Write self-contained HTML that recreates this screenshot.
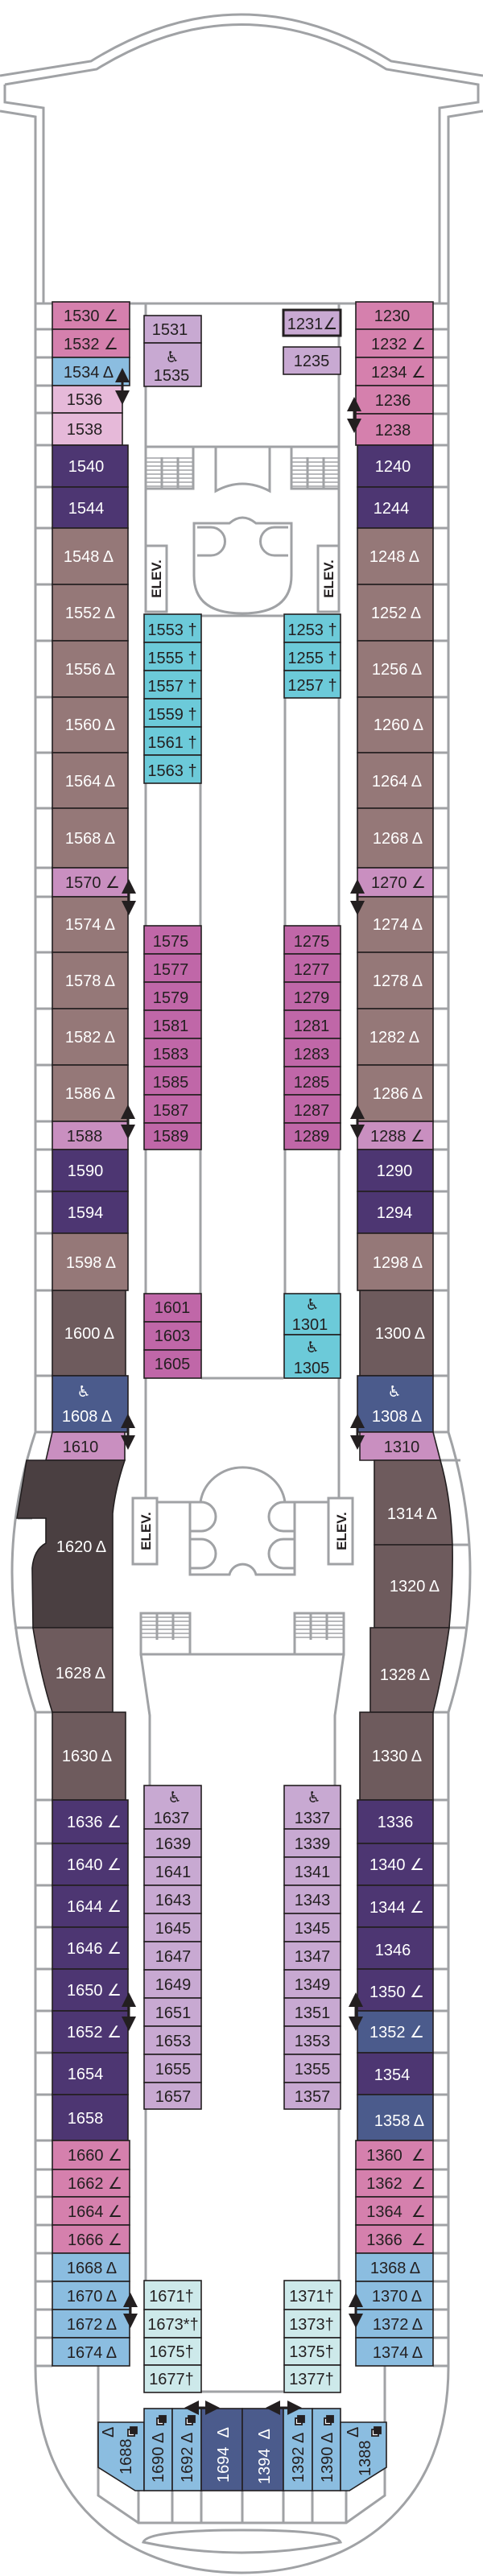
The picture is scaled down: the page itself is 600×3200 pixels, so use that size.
<!DOCTYPE html>
<html><head><meta charset="utf-8"><style>
html,body{margin:0;padding:0;background:#fff;width:600px;height:3200px;overflow:hidden}
svg{display:block}
text{font-family:"Liberation Sans","DejaVu Sans",sans-serif;font-size:20px;text-anchor:middle;fill:#231f20}
.w{fill:#fff}
.wc{font-family:"DejaVu Sans",sans-serif;font-size:19px}
.el{font-weight:bold;font-size:17px}
.g{fill:none;stroke:#a0a2a5;stroke-width:3}
.r{stroke:#231f20;stroke-width:1.6}
.a{stroke:#231f20;stroke-width:3;fill:none}
.rt{text-anchor:start}
</style></head><body>
<svg width="600" height="3200" viewBox="0 0 600 3200" xmlns="http://www.w3.org/2000/svg">
<defs>
<pattern id="st" width="10" height="5" patternUnits="userSpaceOnUse"><rect width="10" height="5" fill="#fff"/><line x1="0" y1="4" x2="10" y2="4" stroke="#a0a2a5" stroke-width="1.5"/></pattern>
<marker id="ah" markerWidth="6" markerHeight="6" refX="3" refY="3" orient="auto-start-reverse"><path d="M0,0 L6,3 L0,6 Z" fill="#231f20"/></marker>
</defs>

<!-- bow outline -->
<path class="g" d="M0 94 L113 76 Q300 -40 486 76 L600 94"/>
<path class="g" d="M6 105 L120 86 Q300 -25 480 86 L594 105 L594 127 L546 134 L546 377"/>
<path class="g" d="M6 105 L6 127 L54 134 L54 377"/>
<path class="g" d="M0 138 L44 145 L44 1779"/>
<path class="g" d="M600 138 L557 145 L557 1779"/>
<path class="g" d="M44 1779 Q-14 1953 44 2127 L44 2940"/>
<path class="g" d="M557 1779 Q611 1953 557 2127 L557 2940"/>
<path class="g" d="M44 2940 C44 3120 170 3196 300 3196 C430 3196 557 3120 557 2940"/>

<!-- balcony separators left -->
<path class="g" d="M44 377H65M44 409H65M44 444H65M44 479H65M44 513H65M44 553H65M44 605H65M44 656H65M44 726H65M44 796H65M44 866H65M44 935H65M44 1004H65M44 1078H65M44 1114H65M44 1183H65M44 1253H65M44 1323H65M44 1393H65M44 1428H65M44 1480H65M44 1532H65M44 1603H65M44 1709H65M44 1779H65M22 1886H40M18 2022H41M44 2127H65M44 2236H65M44 2290H65M44 2342H65M44 2394H65M44 2446H65M44 2498H65M44 2550H65M44 2602H65M44 2659H65M44 2695H65M44 2729H65M44 2764H65M44 2799H65M44 2834H65M44 2869H65M44 2904H65M44 2939H65"/>
<!-- balcony separators right -->
<path class="g" d="M538 377H557M538 409H557M538 444H557M538 479H557M538 514H557M538 553H557M538 605H557M538 656H557M538 726H557M538 796H557M538 866H557M538 935H557M538 1004H557M538 1078H557M538 1114H557M538 1183H557M538 1253H557M538 1323H557M538 1393H557M538 1428H557M538 1480H557M538 1532H557M538 1603H557M538 1709H557M538 1779H557M547 1814H572M562 1919H583M558 2022H578M538 2127H557M538 2236H557M538 2290H557M538 2342H557M538 2394H557M538 2446H557M538 2498H557M538 2550H557M538 2602H557M538 2659H557M538 2695H557M538 2729H557M538 2764H557M538 2799H557M538 2834H557M538 2869H557M538 2904H557M538 2939H557"/>

<!-- center structures -->
<path class="g" d="M161 377H442"/>
<path class="g" d="M181 377V678M421 377V678"/>
<path class="g" d="M181 555H421"/>
<rect x="181" y="568" width="59" height="39" fill="url(#st)"/>
<rect x="181" y="555" width="59" height="52" class="g"/>
<path class="g" d="M201 568V607M221 568V607"/>
<rect x="362" y="568" width="59" height="39" fill="url(#st)"/>
<rect x="362" y="555" width="59" height="52" class="g"/>
<path class="g" d="M382 568V607M402 568V607"/>
<path class="g" d="M268 555V610Q301 592 335 610V555"/>
<path class="g" d="M241 650H285Q301 636 318 650H362V715Q362 762 301 762Q241 762 241 715Z"/>
<path class="g" d="M245 655H262A16 16 0 0 1 262 690H245M358 655H341A16 16 0 0 0 341 690H358"/>
<path class="g" d="M250 765H352"/>
<rect x="181" y="678" width="26" height="82" fill="#fff" class="g"/>
<rect x="395" y="678" width="26" height="82" fill="#fff" class="g"/>
<text class="el" transform="translate(200,719) rotate(-90)">ELEV.</text>
<text class="el" transform="translate(414,719) rotate(-90)">ELEV.</text>
<path class="g" d="M181 973V1150M249 973V1150M354 867V1150M421 867V1150"/>
<path class="g" d="M181 1428V1607M249 1428V1607M354 1428V1607M421 1428V1607"/>
<path class="g" d="M181 1712V1861M421 1712V1861M250 1712H352"/>
<rect x="165" y="1861" width="30" height="82" fill="#fff" class="g"/>
<rect x="408" y="1861" width="30" height="82" fill="#fff" class="g"/>
<text class="el" transform="translate(187,1902) rotate(-90)">ELEV.</text>
<text class="el" transform="translate(430,1902) rotate(-90)">ELEV.</text>
<path class="g" d="M195 1866H236M366 1866H408"/>
<path class="g" d="M236 1866H249A53 50 0 0 1 354 1866H366V1956H318A17 17 0 0 0 285 1956H236Z"/>
<path class="g" d="M236 1866H250A16 16 0 0 1 250 1902H236M236 1912H250A16 16 0 0 1 250 1948H236M366 1866H352A16 16 0 0 0 352 1902H366M366 1912H352A16 16 0 0 0 352 1948H366"/>
<rect x="175" y="2004" width="61" height="33" fill="url(#st)"/>
<rect x="175" y="2004" width="61" height="51" class="g"/>
<path class="g" d="M195 2004V2037M215 2004V2037"/>
<rect x="366" y="2004" width="61" height="33" fill="url(#st)"/>
<rect x="366" y="2004" width="61" height="51" class="g"/>
<path class="g" d="M386 2004V2037M406 2004V2037"/>
<path class="g" d="M236 2055H366M175 2055L186 2131V2218M427 2055L416 2131V2218"/>
<path class="g" d="M181 2620V2833M421 2620V2833M250 2971H352"/>
<path class="g" d="M122 2939V3100L172 3134H430L478 3100V2939"/>
<path class="g" d="M172 3094V3134M214 3094V3134M250 3094V3134M301 3094V3134M352 3094V3134M388 3094V3134M430 3094V3134"/>
<path class="g" d="M178 3158Q183 3143 300 3143Q417 3143 423 3158Q300 3184 178 3158Z"/>

<!-- LEFT COLUMN -->
<g class="r">
<rect x="65" y="375" width="96" height="34" fill="#d580ad"/>
<rect x="65" y="409" width="96" height="35" fill="#d580ad"/>
<rect x="65" y="444" width="96" height="35" fill="#8bbde0"/>
<rect x="65" y="479" width="87" height="34" fill="#e6b9d9"/>
<rect x="65" y="513" width="87" height="40" fill="#e6b9d9"/>
<rect x="65" y="553" width="94" height="52" fill="#4d3672"/>
<rect x="65" y="605" width="94" height="51" fill="#4d3672"/>
<rect x="65" y="656" width="94" height="70" fill="#957878"/>
<rect x="65" y="726" width="94" height="70" fill="#957878"/>
<rect x="65" y="796" width="94" height="70" fill="#957878"/>
<rect x="65" y="866" width="94" height="69" fill="#957878"/>
<rect x="65" y="935" width="94" height="69" fill="#957878"/>
<rect x="65" y="1004" width="94" height="74" fill="#957878"/>
<rect x="65" y="1078" width="94" height="36" fill="#c98fc0"/>
<rect x="65" y="1114" width="94" height="69" fill="#957878"/>
<rect x="65" y="1183" width="94" height="70" fill="#957878"/>
<rect x="65" y="1253" width="94" height="70" fill="#957878"/>
<rect x="65" y="1323" width="94" height="70" fill="#957878"/>
<rect x="65" y="1393" width="94" height="35" fill="#c98fc0"/>
<rect x="65" y="1428" width="94" height="52" fill="#4d3672"/>
<rect x="65" y="1480" width="94" height="52" fill="#4d3672"/>
<rect x="65" y="1532" width="94" height="71" fill="#957878"/>
<rect x="65" y="1603" width="91" height="106" fill="#6e5b5d"/>
<rect x="65" y="1709" width="94" height="70" fill="#4b5b8c"/>
<path d="M65 1779H155V1814H57Z" fill="#c98fc0"/>
<path d="M33 1814H155Q143 1850 140 1880V2022H41L40 1948Q42 1925 57 1917V1886H21Z" fill="#4a3f41"/>
<path d="M41 2022H140V2127H65Q50 2080 41 2022Z" fill="#6e5b5d"/>
<rect x="65" y="2127" width="91" height="109" fill="#6e5b5d"/>
<rect x="65" y="2236" width="94" height="54" fill="#4d3672"/>
<rect x="65" y="2290" width="94" height="52" fill="#4d3672"/>
<rect x="65" y="2342" width="94" height="52" fill="#4d3672"/>
<rect x="65" y="2394" width="94" height="52" fill="#4d3672"/>
<rect x="65" y="2446" width="94" height="52" fill="#4d3672"/>
<rect x="65" y="2498" width="94" height="52" fill="#4d3672"/>
<rect x="65" y="2550" width="94" height="52" fill="#4d3672"/>
<rect x="65" y="2602" width="94" height="57" fill="#4d3672"/>
<rect x="65" y="2659" width="96" height="36" fill="#d580ad"/>
<rect x="65" y="2695" width="96" height="34" fill="#d580ad"/>
<rect x="65" y="2729" width="96" height="35" fill="#d580ad"/>
<rect x="65" y="2764" width="96" height="35" fill="#d580ad"/>
<rect x="65" y="2799" width="96" height="35" fill="#8bbde0"/>
<rect x="65" y="2834" width="96" height="35" fill="#8bbde0"/>
<rect x="65" y="2869" width="96" height="35" fill="#8bbde0"/>
<rect x="65" y="2904" width="96" height="35" fill="#8bbde0"/>
</g>
<g>
<text x="113" y="399">1530 ∠</text>
<text x="113" y="434">1532 ∠</text>
<text x="110" y="469">1534 Δ</text>
<text x="105" y="503">1536</text>
<text x="105" y="540">1538</text>
<text class="w" x="107" y="586">1540</text>
<text class="w" x="107" y="638">1544</text>
<text class="w" x="110" y="698">1548 Δ</text>
<text class="w" x="112" y="768">1552 Δ</text>
<text class="w" x="112" y="838">1556 Δ</text>
<text class="w" x="112" y="907">1560 Δ</text>
<text class="w" x="112" y="977">1564 Δ</text>
<text class="w" x="112" y="1048">1568 Δ</text>
<text x="115" y="1103">1570 ∠</text>
<text class="w" x="112" y="1155">1574 Δ</text>
<text class="w" x="112" y="1225">1578 Δ</text>
<text class="w" x="112" y="1295">1582 Δ</text>
<text class="w" x="112" y="1365">1586 Δ</text>
<text x="105" y="1418">1588</text>
<text class="w" x="106" y="1461">1590</text>
<text class="w" x="106" y="1513">1594</text>
<text class="w" x="113" y="1575">1598 Δ</text>
<text class="w" x="111" y="1663">1600 Δ</text>
<text class="w wc" x="104" y="1735">♿</text>
<text class="w" x="108" y="1766">1608 Δ</text>
<text x="100" y="1804">1610</text>
<text class="w" x="101" y="1928">1620 Δ</text>
<text class="w" x="100" y="2085">1628 Δ</text>
<text class="w" x="108" y="2188">1630 Δ</text>
<text class="w" x="117" y="2270">1636 ∠</text>
<text class="w" x="117" y="2323">1640 ∠</text>
<text class="w" x="117" y="2375">1644 ∠</text>
<text class="w" x="117" y="2427">1646 ∠</text>
<text class="w" x="117" y="2479">1650 ∠</text>
<text class="w" x="117" y="2531">1652 ∠</text>
<text class="w" x="106" y="2583">1654</text>
<text class="w" x="106" y="2638">1658</text>
<text x="118" y="2684">1660 ∠</text>
<text x="118" y="2719">1662 ∠</text>
<text x="118" y="2754">1664 ∠</text>
<text x="118" y="2789">1666 ∠</text>
<text x="114" y="2824">1668 Δ</text>
<text x="114" y="2859">1670 Δ</text>
<text x="114" y="2894">1672 Δ</text>
<text x="114" y="2929">1674 Δ</text>
</g>

<!-- RIGHT COLUMN -->
<g class="r">
<rect x="442" y="375" width="96" height="34" fill="#d580ad"/>
<rect x="442" y="409" width="96" height="35" fill="#d580ad"/>
<rect x="442" y="444" width="96" height="35" fill="#d580ad"/>
<rect x="442" y="479" width="96" height="35" fill="#d580ad"/>
<rect x="442" y="514" width="96" height="39" fill="#d580ad"/>
<rect x="444" y="553" width="94" height="52" fill="#4d3672"/>
<rect x="444" y="605" width="94" height="51" fill="#4d3672"/>
<rect x="444" y="656" width="94" height="70" fill="#957878"/>
<rect x="444" y="726" width="94" height="70" fill="#957878"/>
<rect x="444" y="796" width="94" height="70" fill="#957878"/>
<rect x="444" y="866" width="94" height="69" fill="#957878"/>
<rect x="444" y="935" width="94" height="69" fill="#957878"/>
<rect x="444" y="1004" width="94" height="74" fill="#957878"/>
<rect x="444" y="1078" width="94" height="36" fill="#c98fc0"/>
<rect x="444" y="1114" width="94" height="69" fill="#957878"/>
<rect x="444" y="1183" width="94" height="70" fill="#957878"/>
<rect x="444" y="1253" width="94" height="70" fill="#957878"/>
<rect x="444" y="1323" width="94" height="70" fill="#957878"/>
<rect x="444" y="1393" width="94" height="35" fill="#c98fc0"/>
<rect x="444" y="1428" width="94" height="52" fill="#4d3672"/>
<rect x="444" y="1480" width="94" height="52" fill="#4d3672"/>
<rect x="444" y="1532" width="94" height="71" fill="#957878"/>
<rect x="447" y="1603" width="91" height="106" fill="#6e5b5d"/>
<rect x="444" y="1709" width="94" height="70" fill="#4b5b8c"/>
<path d="M447 1779H538L547 1814H447Z" fill="#c98fc0"/>
<path d="M465 1814H547Q560 1860 562 1919H465Z" fill="#6e5b5d"/>
<path d="M465 1919H562Q563 1970 558 2022H465Z" fill="#6e5b5d"/>
<path d="M460 2022H558Q550 2080 538 2127H460Z" fill="#6e5b5d"/>
<rect x="447" y="2127" width="91" height="109" fill="#6e5b5d"/>
<rect x="444" y="2236" width="94" height="54" fill="#4d3672"/>
<rect x="444" y="2290" width="94" height="52" fill="#4d3672"/>
<rect x="444" y="2342" width="94" height="52" fill="#4d3672"/>
<rect x="444" y="2394" width="94" height="52" fill="#4d3672"/>
<rect x="444" y="2446" width="94" height="52" fill="#4d3672"/>
<rect x="444" y="2498" width="94" height="52" fill="#4b5b8c"/>
<rect x="444" y="2550" width="94" height="52" fill="#4d3672"/>
<rect x="444" y="2602" width="94" height="57" fill="#4b5b8c"/>
<rect x="442" y="2659" width="96" height="36" fill="#d580ad"/>
<rect x="442" y="2695" width="96" height="34" fill="#d580ad"/>
<rect x="442" y="2729" width="96" height="35" fill="#d580ad"/>
<rect x="442" y="2764" width="96" height="35" fill="#d580ad"/>
<rect x="442" y="2799" width="96" height="35" fill="#8bbde0"/>
<rect x="442" y="2834" width="96" height="35" fill="#8bbde0"/>
<rect x="442" y="2869" width="96" height="35" fill="#8bbde0"/>
<rect x="442" y="2904" width="96" height="35" fill="#8bbde0"/>
</g>
<g>
<text x="487" y="399">1230</text>
<text x="495" y="434">1232 ∠</text>
<text x="495" y="469">1234 ∠</text>
<text x="488" y="504">1236</text>
<text x="488" y="541">1238</text>
<text class="w" x="488" y="586">1240</text>
<text class="w" x="486" y="638">1244</text>
<text class="w" x="490" y="698">1248 Δ</text>
<text class="w" x="492" y="768">1252 Δ</text>
<text class="w" x="493" y="838">1256 Δ</text>
<text class="w" x="495" y="907">1260 Δ</text>
<text class="w" x="493" y="977">1264 Δ</text>
<text class="w" x="494" y="1048">1268 Δ</text>
<text x="495" y="1103">1270 ∠</text>
<text class="w" x="494" y="1155">1274 Δ</text>
<text class="w" x="494" y="1225">1278 Δ</text>
<text class="w" x="490" y="1295">1282 Δ</text>
<text class="w" x="494" y="1365">1286 Δ</text>
<text x="494" y="1418">1288 ∠</text>
<text class="w" x="490" y="1461">1290</text>
<text class="w" x="490" y="1513">1294</text>
<text class="w" x="494" y="1575">1298 Δ</text>
<text class="w" x="497" y="1663">1300 Δ</text>
<text class="w wc" x="490" y="1735">♿</text>
<text class="w" x="493" y="1766">1308 Δ</text>
<text x="499" y="1804">1310</text>
<text class="w" x="512" y="1887">1314 Δ</text>
<text class="w" x="515" y="1977">1320 Δ</text>
<text class="w" x="503" y="2087">1328 Δ</text>
<text class="w" x="493" y="2188">1330 Δ</text>
<text class="w" x="491" y="2270">1336</text>
<text class="w" x="493" y="2323">1340 ∠</text>
<text class="w" x="493" y="2376">1344 ∠</text>
<text class="w" x="488" y="2429">1346</text>
<text class="w" x="493" y="2481">1350 ∠</text>
<text class="w" x="493" y="2531">1352 ∠</text>
<text class="w" x="487" y="2584">1354</text>
<text class="w" x="496" y="2641">1358 Δ</text>
<text x="492" y="2684">1360 &#160;∠</text>
<text x="492" y="2719">1362 &#160;∠</text>
<text x="492" y="2754">1364 &#160;∠</text>
<text x="492" y="2789">1366 &#160;∠</text>
<text x="491" y="2824">1368 Δ</text>
<text x="493" y="2859">1370 Δ</text>
<text x="494" y="2894">1372 Δ</text>
<text x="494" y="2929">1374 Δ</text>
</g>

<!-- INNER COLUMNS -->
<g class="r">
<rect x="179" y="392" width="71" height="34" fill="#c8a9d2"/>
<rect x="179" y="426" width="71" height="54" fill="#c8a9d2"/>
<rect x="352" y="385" width="71" height="32" fill="#c8a9d2" stroke-width="3"/>
<rect x="352" y="431" width="71" height="34" fill="#c8a9d2"/>
<rect x="179" y="763" width="71" height="35" fill="#6ccad9"/>
<rect x="179" y="798" width="71" height="35" fill="#6ccad9"/>
<rect x="179" y="833" width="71" height="35" fill="#6ccad9"/>
<rect x="179" y="868" width="71" height="35" fill="#6ccad9"/>
<rect x="179" y="903" width="71" height="35" fill="#6ccad9"/>
<rect x="179" y="938" width="71" height="35" fill="#6ccad9"/>
<rect x="353" y="763" width="70" height="35" fill="#6ccad9"/>
<rect x="353" y="798" width="70" height="35" fill="#6ccad9"/>
<rect x="353" y="833" width="70" height="34" fill="#6ccad9"/>
<rect x="179" y="1150" width="71" height="35" fill="#c067a8"/>
<rect x="179" y="1185" width="71" height="35" fill="#c067a8"/>
<rect x="179" y="1220" width="71" height="35" fill="#c067a8"/>
<rect x="179" y="1255" width="71" height="35" fill="#c067a8"/>
<rect x="179" y="1290" width="71" height="35" fill="#c067a8"/>
<rect x="179" y="1325" width="71" height="35" fill="#c067a8"/>
<rect x="179" y="1360" width="71" height="35" fill="#c067a8"/>
<rect x="179" y="1395" width="71" height="33" fill="#c067a8"/>
<rect x="353" y="1150" width="70" height="35" fill="#c067a8"/>
<rect x="353" y="1185" width="70" height="35" fill="#c067a8"/>
<rect x="353" y="1220" width="70" height="35" fill="#c067a8"/>
<rect x="353" y="1255" width="70" height="35" fill="#c067a8"/>
<rect x="353" y="1290" width="70" height="35" fill="#c067a8"/>
<rect x="353" y="1325" width="70" height="35" fill="#c067a8"/>
<rect x="353" y="1360" width="70" height="35" fill="#c067a8"/>
<rect x="353" y="1395" width="70" height="33" fill="#c067a8"/>
<rect x="179" y="1607" width="71" height="35" fill="#c067a8"/>
<rect x="179" y="1642" width="71" height="35" fill="#c067a8"/>
<rect x="179" y="1677" width="71" height="35" fill="#c067a8"/>
<rect x="353" y="1607" width="70" height="51" fill="#6ccad9"/>
<rect x="353" y="1658" width="70" height="54" fill="#6ccad9"/>
<rect x="179" y="2218" width="71" height="54" fill="#c8a9d2"/>
<rect x="179" y="2272" width="71" height="35" fill="#c8a9d2"/>
<rect x="179" y="2307" width="71" height="35" fill="#c8a9d2"/>
<rect x="179" y="2342" width="71" height="35" fill="#c8a9d2"/>
<rect x="179" y="2377" width="71" height="35" fill="#c8a9d2"/>
<rect x="179" y="2412" width="71" height="35" fill="#c8a9d2"/>
<rect x="179" y="2447" width="71" height="35" fill="#c8a9d2"/>
<rect x="179" y="2482" width="71" height="35" fill="#c8a9d2"/>
<rect x="179" y="2517" width="71" height="35" fill="#c8a9d2"/>
<rect x="179" y="2552" width="71" height="35" fill="#c8a9d2"/>
<rect x="179" y="2587" width="71" height="33" fill="#c8a9d2"/>
<rect x="353" y="2218" width="70" height="54" fill="#c8a9d2"/>
<rect x="353" y="2272" width="70" height="35" fill="#c8a9d2"/>
<rect x="353" y="2307" width="70" height="35" fill="#c8a9d2"/>
<rect x="353" y="2342" width="70" height="35" fill="#c8a9d2"/>
<rect x="353" y="2377" width="70" height="35" fill="#c8a9d2"/>
<rect x="353" y="2412" width="70" height="35" fill="#c8a9d2"/>
<rect x="353" y="2447" width="70" height="35" fill="#c8a9d2"/>
<rect x="353" y="2482" width="70" height="35" fill="#c8a9d2"/>
<rect x="353" y="2517" width="70" height="35" fill="#c8a9d2"/>
<rect x="353" y="2552" width="70" height="35" fill="#c8a9d2"/>
<rect x="353" y="2587" width="70" height="33" fill="#c8a9d2"/>
<rect x="179" y="2833" width="71" height="36" fill="#cde9ea"/>
<rect x="179" y="2869" width="71" height="35" fill="#cde9ea"/>
<rect x="179" y="2904" width="71" height="34" fill="#cde9ea"/>
<rect x="179" y="2938" width="71" height="34" fill="#cde9ea"/>
<rect x="353" y="2833" width="70" height="36" fill="#cde9ea"/>
<rect x="353" y="2869" width="70" height="35" fill="#cde9ea"/>
<rect x="353" y="2904" width="70" height="34" fill="#cde9ea"/>
<rect x="353" y="2938" width="70" height="34" fill="#cde9ea"/>
</g>
<g>
<text x="211" y="416">1531</text>
<text class="wc" x="214" y="450">♿</text>
<text x="213" y="473">1535</text>
<text x="388" y="409">1231∠</text>
<text x="387" y="455">1235</text>
<text x="214" y="789">1553 †</text>
<text x="214" y="824">1555 †</text>
<text x="214" y="859">1557 †</text>
<text x="214" y="894">1559 †</text>
<text x="214" y="929">1561 †</text>
<text x="214" y="964">1563 †</text>
<text x="388" y="789">1253 †</text>
<text x="388" y="824">1255 †</text>
<text x="388" y="858">1257 †</text>
<text x="212" y="1176">1575</text>
<text x="212" y="1211">1577</text>
<text x="212" y="1246">1579</text>
<text x="212" y="1281">1581</text>
<text x="212" y="1316">1583</text>
<text x="212" y="1351">1585</text>
<text x="212" y="1386">1587</text>
<text x="212" y="1418">1589</text>
<text x="387" y="1176">1275</text>
<text x="387" y="1211">1277</text>
<text x="387" y="1246">1279</text>
<text x="387" y="1281">1281</text>
<text x="387" y="1316">1283</text>
<text x="387" y="1351">1285</text>
<text x="387" y="1386">1287</text>
<text x="387" y="1418">1289</text>
<text x="214" y="1631">1601</text>
<text x="214" y="1666">1603</text>
<text x="214" y="1701">1605</text>
<text class="wc" x="388" y="1627">♿</text>
<text x="385" y="1652">1301</text>
<text class="wc" x="388" y="1680">♿</text>
<text x="387" y="1706">1305</text>
<text class="wc" x="217" y="2239">♿</text>
<text x="213" y="2265">1637</text>
<text x="215" y="2297">1639</text>
<text x="215" y="2332">1641</text>
<text x="215" y="2367">1643</text>
<text x="215" y="2402">1645</text>
<text x="215" y="2437">1647</text>
<text x="215" y="2472">1649</text>
<text x="215" y="2507">1651</text>
<text x="215" y="2542">1653</text>
<text x="215" y="2577">1655</text>
<text x="215" y="2611">1657</text>
<text class="wc" x="390" y="2239">♿</text>
<text x="388" y="2265">1337</text>
<text x="388" y="2297">1339</text>
<text x="388" y="2332">1341</text>
<text x="388" y="2367">1343</text>
<text x="388" y="2402">1345</text>
<text x="388" y="2437">1347</text>
<text x="388" y="2472">1349</text>
<text x="388" y="2507">1351</text>
<text x="388" y="2542">1353</text>
<text x="388" y="2577">1355</text>
<text x="388" y="2611">1357</text>
<text x="213" y="2859">1671†</text>
<text x="215" y="2894">1673*†</text>
<text x="213" y="2928">1675†</text>
<text x="213" y="2962">1677†</text>
<text x="387" y="2859">1371†</text>
<text x="387" y="2894">1373†</text>
<text x="387" y="2928">1375†</text>
<text x="387" y="2962">1377†</text>
</g>

<!-- AFT BLOCK -->
<g class="r">
<path d="M122 3009H179V3094H168L122 3065Z" fill="#8bbde0"/>
<rect x="179" y="2992" width="35" height="102" fill="#8bbde0"/>
<rect x="214" y="2992" width="36" height="102" fill="#8bbde0"/>
<rect x="250" y="2992" width="51" height="102" fill="#4b5b8c"/>
<rect x="301" y="2992" width="51" height="102" fill="#4b5b8c"/>
<rect x="352" y="2992" width="36" height="102" fill="#8bbde0"/>
<rect x="388" y="2992" width="35" height="102" fill="#8bbde0"/>
<path d="M423 3009H480V3065L434 3094H423Z" fill="#8bbde0"/>
</g>
<g>
<text class="rt" transform="translate(163,3074) rotate(-90)">1688</text>
<text class="rt" transform="translate(141,3028) rotate(-90)">Δ</text>
<text class="rt" transform="translate(203,3084) rotate(-90)">1690 Δ</text>
<text class="rt" transform="translate(239,3084) rotate(-90)">1692 Δ</text>
<text class="rt w" transform="translate(284,3084) rotate(-90)">1694 &#160;Δ</text>
<text class="rt w" transform="translate(335,3086) rotate(-90)">1394 &#160;Δ</text>
<text class="rt" transform="translate(377,3084) rotate(-90)">1392 Δ</text>
<text class="rt" transform="translate(413,3084) rotate(-90)">1390 Δ</text>
<text class="rt" transform="translate(460,3076) rotate(-90)">1388</text>
<text class="rt" transform="translate(445,3028) rotate(-90)">Δ</text>
</g>
<g fill="#fff" stroke="#231f20" stroke-width="1.8">
<rect x="159" y="3018" width="8" height="8"/><rect x="162" y="3015" width="8" height="8" fill="#231f20"/>
<rect x="195" y="3004" width="8" height="8"/><rect x="198" y="3001" width="8" height="8" fill="#231f20"/>
<rect x="231" y="3004" width="8" height="8"/><rect x="234" y="3001" width="8" height="8" fill="#231f20"/>
<rect x="367" y="3004" width="8" height="8"/><rect x="370" y="3001" width="8" height="8" fill="#231f20"/>
<rect x="403" y="3004" width="8" height="8"/><rect x="406" y="3001" width="8" height="8" fill="#231f20"/>
<rect x="462" y="3018" width="8" height="8"/><rect x="465" y="3015" width="8" height="8" fill="#231f20"/>
</g>

<!-- connecting arrows -->
<g class="a" marker-start="url(#ah)" marker-end="url(#ah)">
<line x1="152" y1="466" x2="152" y2="494"/>
<line x1="160" y1="1101" x2="160" y2="1128"/>
<line x1="159" y1="1381" x2="159" y2="1406"/>
<line x1="159" y1="1765" x2="159" y2="1792"/>
<line x1="160" y1="2484" x2="160" y2="2514"/>
<line x1="162" y1="2857" x2="162" y2="2883"/>
<line x1="440" y1="502" x2="440" y2="529"/>
<line x1="444" y1="1101" x2="444" y2="1128"/>
<line x1="444" y1="1381" x2="444" y2="1406"/>
<line x1="444" y1="1765" x2="444" y2="1792"/>
<line x1="442" y1="2484" x2="442" y2="2514"/>
<line x1="442" y1="2857" x2="442" y2="2883"/>
<line x1="238" y1="2991" x2="264" y2="2991"/>
<line x1="339" y1="2991" x2="366" y2="2991"/>
</g>
</svg>
</body></html>
